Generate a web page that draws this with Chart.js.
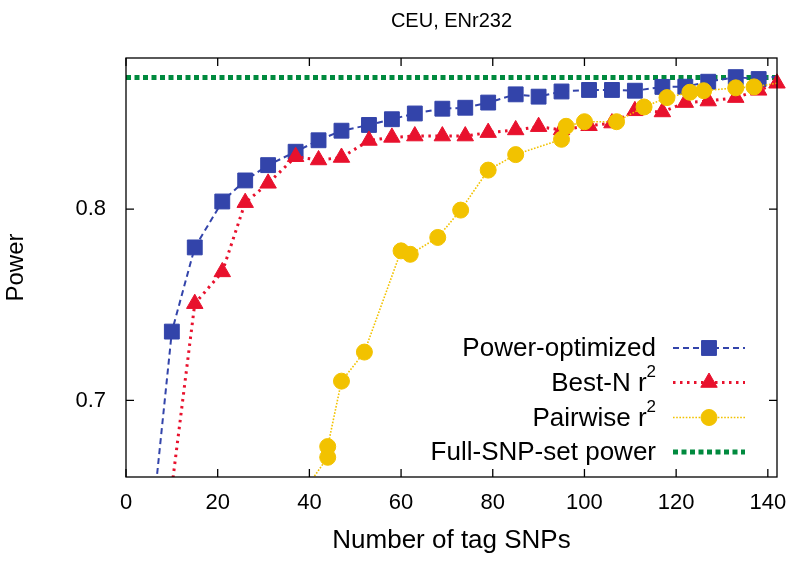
<!DOCTYPE html>
<html>
<head>
<meta charset="utf-8">
<script src="https://cdn.jsdelivr.net/npm/chart.js@4/dist/chart.umd.min.js"></script>
<style>
  html, body { margin: 0; padding: 0; background: #fff; }
  #wrap { width: 800px; height: 564px; }
</style>
</head>
<body>
<div id="wrap"><canvas id="powerChart" width="800" height="564"></canvas></div>
<script>
// ─── data ──────────────────────────────────────────────────
const titleText = 'CEU, ENr232';
const xTitle = 'Number of tag SNPs';
const yTitle = 'Power';
const xTicks = [0, 20, 40, 60, 80, 100, 120, 140];
const yTicks = [0.7, 0.8];
const xMin = 0, xMax = 142, yMin = 0.66, yMax = 0.879;

// Power-optimized
const optX = [5, 10, 15, 21, 26, 31, 37, 42, 47, 53, 58, 63, 69, 74, 79, 85, 90, 95, 101, 106, 111, 117, 122, 127, 133, 138, 143];
const optY = [0.62, 0.736, 0.780, 0.804, 0.815, 0.823, 0.830, 0.836, 0.841, 0.844, 0.847, 0.850, 0.8525, 0.853, 0.8557, 0.860, 0.8588, 0.8615, 0.8623, 0.8623, 0.8619, 0.8639, 0.864, 0.8666, 0.869, 0.868, 0.8696];
// Best-N r2
const bestX = [9.5, 15, 21, 26, 31, 37, 42, 47, 53, 58, 63, 69, 74, 79, 85, 90, 95, 101, 106, 111, 117, 122, 127, 133, 138, 142];
const bestY = [0.645, 0.7506, 0.7672, 0.8034, 0.8135, 0.8274, 0.8257, 0.827, 0.8359, 0.8375, 0.8382, 0.8382, 0.8382, 0.840, 0.8414, 0.8431, 0.8414, 0.8436, 0.845, 0.8514, 0.8508, 0.8557, 0.8565, 0.8583, 0.8621, 0.8658];
// Pairwise r2
const pairX = [39.5, 44, 44, 47, 52, 60, 62, 68, 73, 79, 85, 95, 96, 100, 107, 113, 118, 123, 126, 133, 137, 142];
const pairY = [0.655, 0.6703, 0.6759, 0.7101, 0.7253, 0.7782, 0.7764, 0.7852, 0.7995, 0.8204, 0.8285, 0.8365, 0.8433, 0.8457, 0.8457, 0.8534, 0.8583, 0.8611, 0.8619, 0.8634, 0.8639, 0.8658];
// Full-SNP-set power
const fullX = [0, 142];
const fullY = [0.8688, 0.8688];

const legendLabels = ['Power-optimized', 'Best-N r', 'Pairwise r', 'Full-SNP-set power'];
const legendSup = ['', '2', '2', ''];

const FONT = '"Liberation Sans", Arial, Helvetica, sans-serif';
const pts = (xs, ys) => xs.map((x, i) => ({ x, y: ys[i] }));

// hide markers that sit outside the axes (gnuplot only shows the line there)
const radiusIn = (r, hideEdge) => ctx => {
  const p = ctx.raw;
  if (!p || p.x > xMax || p.y < yMin) return 0;
  if (hideEdge && p.x >= xMax) return 0;
  return r;
};

const series = [
  { label: legendLabels[0], data: pts(optX, optY), color: '#3344aa', style: 'rect', r: 10.5, width: 2, dash: [6, 4], order: 2, clip: { left: 0, top: 0, right: 0, bottom: 0 } },
  { label: legendLabels[1], data: pts(bestX, bestY), color: '#e8112d', style: 'triangle', r: 9.5, width: 3, dash: [2.5, 4.5], order: 1, clip: { left: 0, top: 0, right: 12, bottom: 0 } },
  { label: legendLabels[2], data: pts(pairX, pairY), color: '#f2c200', style: 'circle', r: 8, width: 1.6, dash: [1.6, 1.6], order: 0, clip: { left: 0, top: 0, right: 0, bottom: 0 }, hideEdge: true },
  { label: legendLabels[3], data: pts(fullX, fullY), color: '#008a3e', style: 'line', r: 0, width: 5, dash: [5, 3.5], order: 3, clip: { left: 0, top: 0, right: 0, bottom: 0 } }
];

// ─── frame, inward ticks, title and legend ─────────────────
const gnuplotLook = {
  id: 'gnuplotLook',
  beforeDatasetsDraw(chart) {
    const { ctx, chartArea: a } = chart;
    ctx.save();
    ctx.fillStyle = '#000';
    ctx.font = '20px ' + FONT;
    ctx.textAlign = 'center';
    ctx.textBaseline = 'middle';
    ctx.fillText(titleText, (a.left + a.right) / 2, 21);
    ctx.restore();
  },
  afterDatasetsDraw(chart) {
    const { ctx, chartArea: a, scales } = chart;
    ctx.save();
    ctx.strokeStyle = '#000';
    ctx.lineWidth = 1.3;
    ctx.setLineDash([]);
    ctx.strokeRect(a.left, a.top, a.right - a.left, a.bottom - a.top);
    const tl = 8;
    ctx.beginPath();
    xTicks.forEach(v => {
      const px = scales.x.getPixelForValue(v);
      ctx.moveTo(px, a.bottom); ctx.lineTo(px, a.bottom - tl);
      ctx.moveTo(px, a.top); ctx.lineTo(px, a.top + tl);
    });
    yTicks.forEach(v => {
      const py = scales.y.getPixelForValue(v);
      ctx.moveTo(a.left, py); ctx.lineTo(a.left + tl, py);
      ctx.moveTo(a.right, py); ctx.lineTo(a.right - tl, py);
    });
    ctx.stroke();

    // legend, text right aligned with the sample on its right
    const textRight = 656, x0 = 673, x1 = 745, rowY = [348, 382.5, 417.5, 452];
    series.forEach((s, i) => {
      const y = rowY[i];
      ctx.fillStyle = '#000';
      ctx.textBaseline = 'middle';
      let right = textRight;
      if (legendSup[i]) {
        ctx.font = '17px ' + FONT;
        const w = ctx.measureText(legendSup[i]).width;
        ctx.textAlign = 'right';
        ctx.fillText(legendSup[i], right, y - 10);
        right -= w;
      }
      ctx.font = '26px ' + FONT;
      ctx.textAlign = 'right';
      ctx.fillText(legendLabels[i], right, y + 1);

      ctx.strokeStyle = s.color;
      ctx.lineWidth = s.width;
      ctx.setLineDash(s.dash);
      ctx.beginPath();
      ctx.moveTo(x0, y); ctx.lineTo(x1, y);
      ctx.stroke();
      if (s.style !== 'line') {
        ctx.setLineDash([]);
        ctx.fillStyle = s.color;
        ctx.lineWidth = 1;
        Chart.helpers.drawPoint(ctx, { pointStyle: s.style, rotation: 0, radius: s.r, borderWidth: 1 }, (x0 + x1) / 2, y);
      }
    });
    ctx.restore();
  }
};

new Chart(document.getElementById('powerChart'), {
  type: 'line',
  data: {
    datasets: series.map(s => ({
      label: s.label,
      data: s.data,
      borderColor: s.color,
      backgroundColor: s.color,
      borderWidth: s.width,
      borderDash: s.dash,
      pointStyle: s.style === 'line' ? false : s.style,
      pointRadius: radiusIn(s.r, s.hideEdge),
      pointBorderWidth: 1,
      pointBackgroundColor: s.color,
      pointBorderColor: s.color,
      tension: 0,
      fill: false,
      order: s.order,
      clip: s.clip
    }))
  },
  options: {
    responsive: false,
    animation: false,
    devicePixelRatio: 1,
    layout: { padding: { left: 0, right: 23, top: 58, bottom: 0 } },
    plugins: { legend: { display: false }, title: { display: false }, tooltip: { enabled: false } },
    scales: {
      x: {
        type: 'linear', min: xMin, max: xMax,
        grid: { display: false }, border: { display: false },
        afterBuildTicks: s => { s.ticks = xTicks.map(v => ({ value: v })); },
        afterFit: s => { s.height = 87; },
        ticks: { color: '#000', padding: 5, maxRotation: 0, font: { family: FONT, size: 22 } },
        title: { display: true, text: xTitle, color: '#000', padding: { top: 0, bottom: 8 }, font: { family: FONT, size: 26 } }
      },
      y: {
        type: 'linear', min: yMin, max: yMax,
        grid: { display: false }, border: { display: false },
        afterBuildTicks: s => { s.ticks = yTicks.map(v => ({ value: v })); },
        afterFit: s => { s.width = 126; },
        ticks: { color: '#000', padding: 12, callback: v => v.toFixed(1), font: { family: FONT, size: 22 } },
        title: { display: true, text: yTitle, color: '#000', padding: { top: 2, bottom: 0 }, font: { family: FONT, size: 24 } }
      }
    }
  },
  plugins: [gnuplotLook]
});
</script>
</body>
</html>
